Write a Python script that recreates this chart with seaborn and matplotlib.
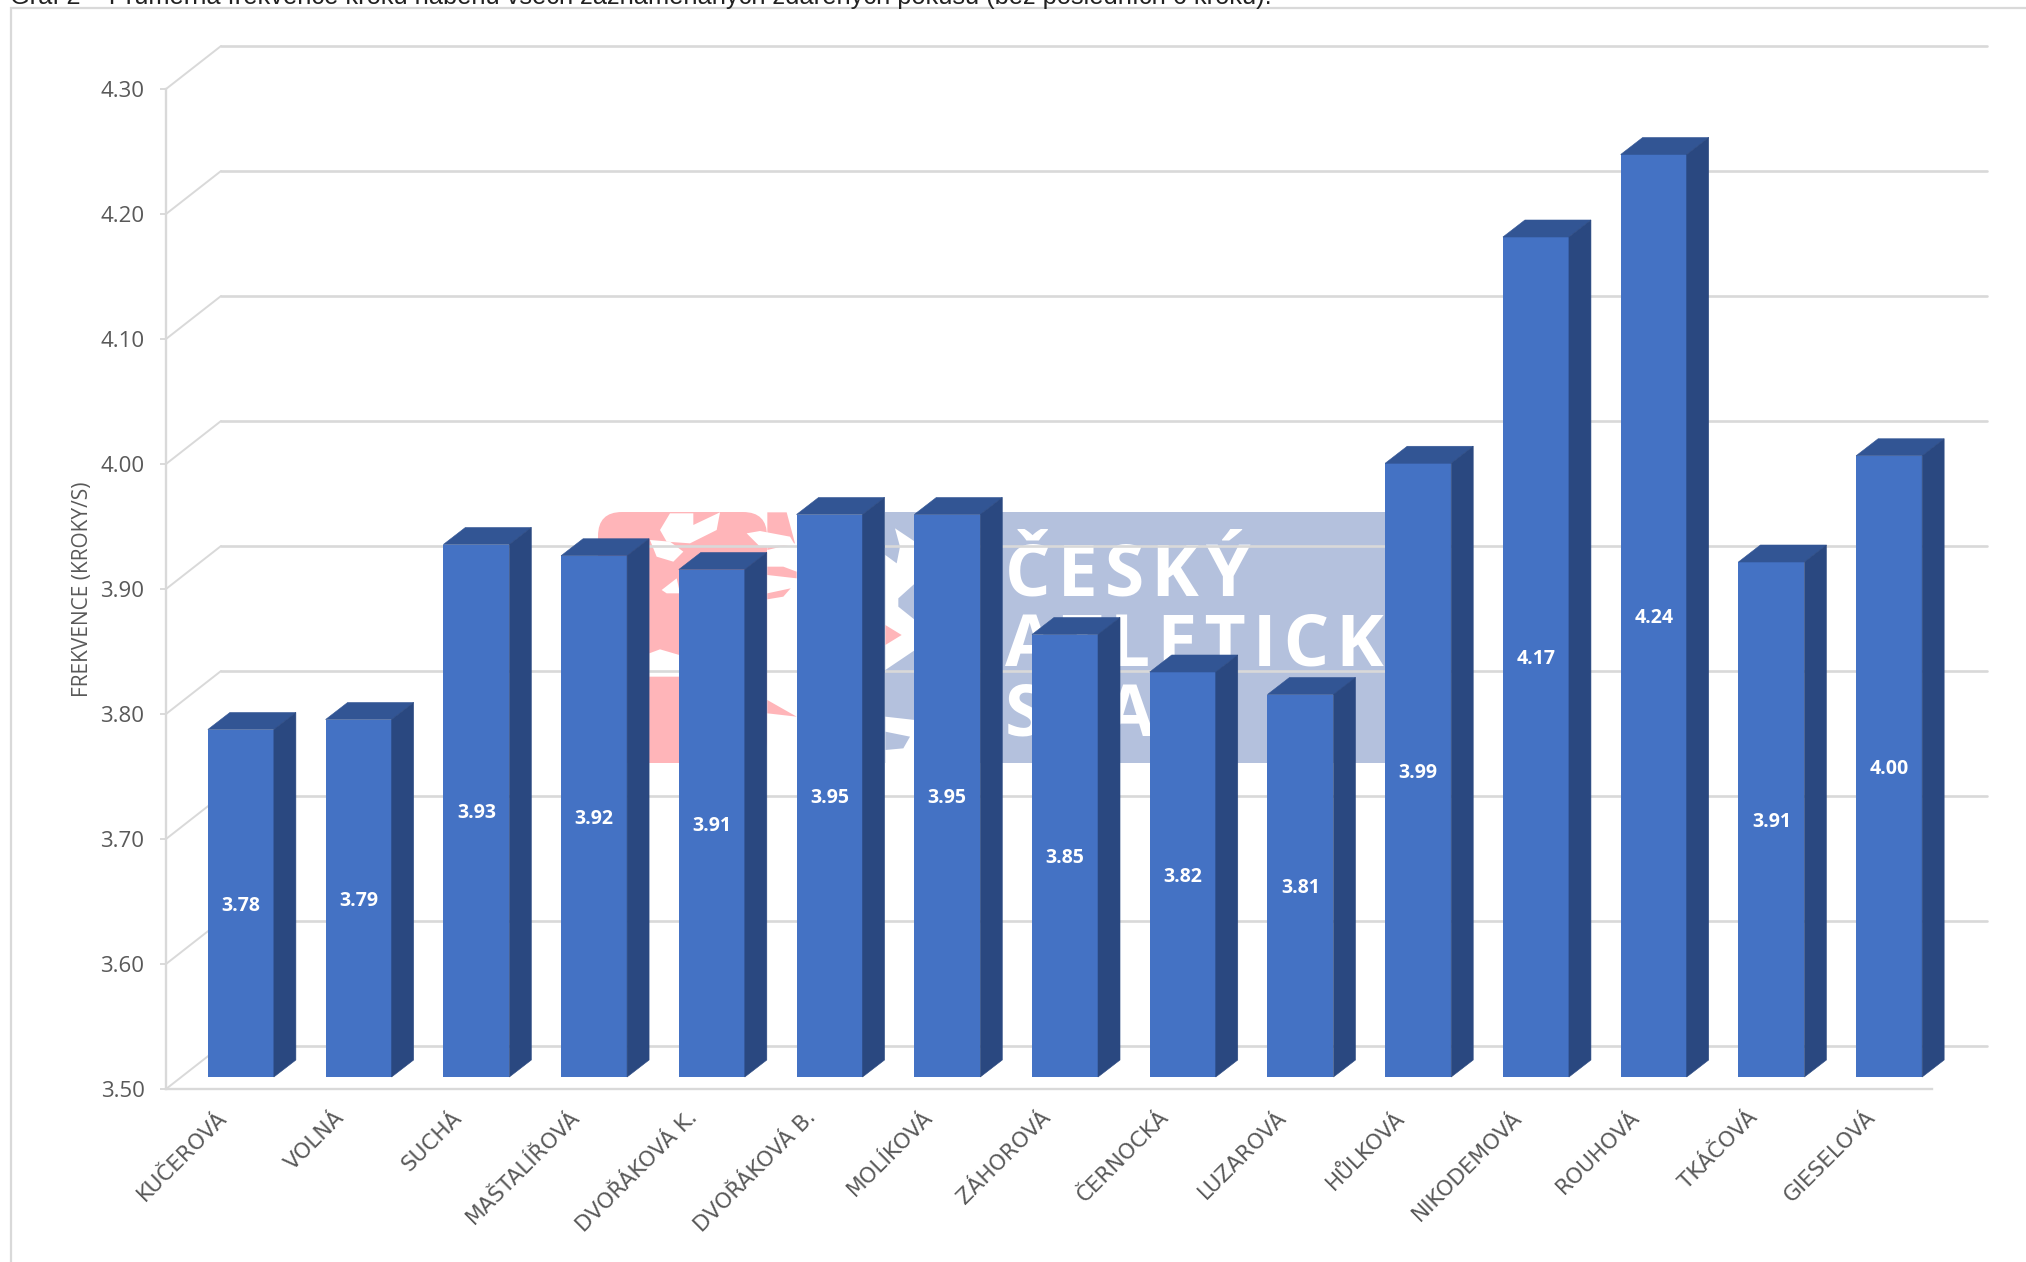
import numpy as np
import pandas as pd
import seaborn as sns
import matplotlib
matplotlib.use('Agg')
import matplotlib.pyplot as plt
from matplotlib.patches import Polygon, FancyBboxPatch, Rectangle
from matplotlib.transforms import ScaledTranslation

# athletes and their mean stride frequency
names = ['KUČEROVÁ', 'VOLNÁ', 'SUCHÁ', 'MAŠTALÍŘOVÁ', 'DVOŘÁKOVÁ K.', 'DVOŘÁKOVÁ B.', 'MOLÍKOVÁ', 'ZÁHOROVÁ',
         'ČERNOCKÁ', 'LUZAROVÁ', 'HŮLKOVÁ', 'NIKODEMOVÁ', 'ROUHOVÁ', 'TKÁČOVÁ', 'GIESELOVÁ']
values = [3.778, 3.786, 3.926, 3.917, 3.906, 3.950, 3.950, 3.854, 3.824, 3.806, 3.991, 4.172, 4.238, 3.912, 3.997]
y_ticks = [3.50, 3.60, 3.70, 3.80, 3.90, 4.00, 4.10, 4.20, 4.30]

title = 'Graf 2 – Průměrná frekvence kroků náběhu všech zaznamenaných zdařených pokusů (bez posledních 6 kroků).'
y_label = 'FREKVENCE (KROKY/S)'
logo_words = ['ČESKÝ', 'ATLETICKÝ', 'SVAZ']

W, H = 2026, 1262
GRID = '#D9D9D9'
TEXT = '#595959'
FRONT = '#4472C4'
SIDE = '#2A4880'
TOP = '#325594'
PINK = '#FFB5B9'
BLUE = '#B4C1DD'

sns.set_theme(style='white')
plt.rcParams['font.family'] = ['Open Sans', 'DejaVu Sans']

df = pd.DataFrame({'name': names, 'value': values})
fig = plt.figure(figsize=(W / 100, H / 100), dpi=100, facecolor='white')


def plane(left, base):
    # one depth plane of the fake 3d chart, same scale in each
    ax = fig.add_axes([left / W, 1 - base / H, 1766 / W, 1000 / H])
    ax.set_xlim(-0.5, 14.5)
    ax.set_ylim(3.5, 4.3)
    ax.patch.set_visible(False)
    return ax


# background layer in pixels: frame, title and the logo behind the chart
bg = fig.add_axes([0, 0, 1, 1], zorder=0)
bg.set_xlim(0, W)
bg.set_ylim(H, 0)
bg.set_axis_off()
bg.plot([11, 11, W], [H, 8, 8], color=GRID, lw=1.6, solid_joinstyle='miter')
bg.text(10, 4, title, family='Liberation Sans', fontsize=18.25, color='#222222', va='baseline', clip_on=True)


def zoomed(points):
    return [(560 + x / 3, 500 + y / 3) for x, y in points]


bg.add_patch(FancyBboxPatch((598, 512), 169, 251, boxstyle='round,pad=0,rounding_size=24', fc=PINK, ec='none'))
bg.add_patch(Polygon(zoomed([(622, 37), (680, 37), (705, 130), (622, 150)]), fc=PINK, ec='none'))
bg.add_patch(Polygon(zoomed([(622, 200), (670, 200), (710, 215), (710, 235), (622, 225)]), fc=PINK, ec='none'))
bg.add_patch(Polygon(zoomed([(622, 280), (692, 265), (670, 290), (622, 298)]), fc=PINK, ec='none'))
bg.add_patch(Polygon(zoomed([(622, 600), (710, 650), (622, 640)]), fc=PINK, ec='none'))
bg.add_patch(Rectangle((885, 512), 515, 251, fc=BLUE, ec='none'))
for leaf in [[(300, 90), (330, 40), (400, 40), (400, 75), (480, 37), (470, 90), (390, 130), (320, 125)],
             [(270, 120), (330, 125), (370, 155), (340, 185), (290, 170)],
             [(305, 270), (350, 235), (360, 280), (320, 280)],
             [(268, 460), (300, 448), (358, 465), (358, 530), (268, 530)],
             [(560, 100), (600, 93), (690, 110), (705, 135), (600, 140)],
             [(976, 165), (1010, 190), (1020, 140), (1005, 85), (1065, 125), (1065, 250), (1015, 295), (1015, 320),
              (1065, 360), (1065, 450), (976, 510)],
             [(976, 650), (1065, 660), (1065, 790), (976, 790)]]:
    bg.add_patch(Polygon(zoomed(leaf), fc='white', ec='none'))
bg.add_patch(Polygon(zoomed([(976, 375), (1025, 405), (976, 435)]), fc=PINK, ec='none'))
bg.add_patch(Polygon(zoomed([(976, 695), (1050, 710), (1030, 745), (976, 750)]), fc=BLUE, ec='none'))
# hair spaces give the logo its wide letter spacing
for word, base in zip(logo_words, [595, 665, 735]):
    bg.text(1005, base, '\u200a'.join(word), family=['Open Sans', 'DejaVu Sans'], weight='bold', fontsize=51.5,
            color='white', va='baseline')

# back wall with the gridlines
back = plane(221, 1046)
back.set_zorder(1)
back.set_xticks([])
back.set_yticks(y_ticks)
back.tick_params(labelleft=False, length=0)
back.grid(axis='y', color=GRID, lw=1.9)
for line in back.get_ygridlines():
    line.set_clip_on(False)
sns.despine(ax=back, left=True, bottom=True)

# front plane: axis lines, ticks and labels
front = plane(166, 1089)
front.set_zorder(2)
front.set_yticks(y_ticks, [f'{t:.2f}' for t in y_ticks], fontsize=16, color=TEXT)
front.set_xticks(range(len(names)), names, rotation=45, ha='right', rotation_mode='anchor', family='DejaVu Sans',
                 fontsize=15.5, color=TEXT)
front.tick_params(axis='y', length=4.5, width=1.4, color=GRID, pad=11, left=True)
front.tick_params(axis='x', length=0, pad=13)
shift = ScaledTranslation(-6 / 72, 0, fig.dpi_scale_trans)
for label in front.get_xticklabels():
    label.set_transform(label.get_transform() + shift)
front.set_ylabel(y_label, fontsize=15, color=TEXT, labelpad=5.5)
sns.despine(ax=front)
for side in ['left', 'bottom']:
    front.spines[side].set_color(GRID)
    front.spines[side].set_linewidth(1.7)

# side wall going back from every tick
dx_wall, dy_wall = 55 / 117.7, 43 / 1250
for t in y_ticks:
    front.plot([-0.5, -0.5 + dx_wall], [t, t + dy_wall], color=GRID, lw=1.4, clip_on=False)

# the bars stand a little behind the front plane
bars = plane(182, 1077)
bars.set_zorder(3)
bar_w = 66 / 117.7
sns.barplot(data=df, x='name', y='value', color=FRONT, saturation=1, width=bar_w, linewidth=0, ax=bars)
bars.set_xlim(-0.5, 14.5)
bars.set_ylim(3.5, 4.3)
bars.set_axis_off()

dx, dy = 22 / 117.7, 17 / 1250
for i, v in enumerate(values):
    l, r = i - bar_w / 2, i + bar_w / 2
    bars.add_patch(Polygon([(l, v), (r, v), (r + dx, v + dy), (l + dx, v + dy)], fc=TOP, ec=TOP, lw=0.4, clip_on=False))
    bars.add_patch(Polygon([(r, 3.5), (r + dx, 3.5 + dy), (r + dx, v + dy), (r, v)], fc=SIDE, ec=SIDE, lw=0.4,
                           clip_on=False))
    bars.text(i, (v + 3.5) / 2, f'{v:.2f}', color='white', weight='bold', fontsize=14, ha='center',
              va='center_baseline')

plt.savefig('out.png', dpi=100)
